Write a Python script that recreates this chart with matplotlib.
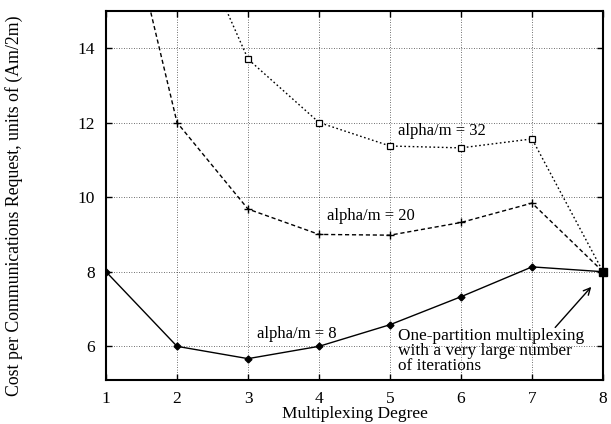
import matplotlib
matplotlib.use("Agg")
import matplotlib.pyplot as plt

# ------------------------------------------------------------
# Data
# ------------------------------------------------------------
degree = [1, 2, 3, 4, 5, 6, 7, 8]
cost_alpha8 = [8.0, 6.0, 5.67, 6.0, 6.58, 7.33, 8.13, 8.0]
cost_alpha20 = [20.0, 12.0, 9.68, 9.0, 8.98, 9.32, 9.84, 8.0]
cost_alpha32 = [32.0, 18.0, 13.7, 12.0, 11.37, 11.32, 11.56, 8.0]

y_ticks = [6, 8, 10, 12, 14]

plt.rcParams["font.family"] = ["Liberation Serif", "DejaVu Serif"]

fig = plt.figure(figsize=(6.11, 4.24), dpi=100)
ax = fig.add_axes([0.1735, 0.104, 0.8135, 0.871])

# ------------------------------------------------------------
# Curves
# ------------------------------------------------------------
ax.plot(degree, cost_alpha32, color="black", linestyle=(0, (1.2, 1.8)),
        linewidth=1.0, marker="s", markersize=4.5, markerfacecolor="white",
        markeredgewidth=0.9)
ax.plot(degree, cost_alpha20, color="black", linestyle=(0, (3, 2)),
        linewidth=1.0, marker="+", markersize=6, markeredgewidth=1.0)
ax.plot(degree, cost_alpha8, color="black", linestyle="-",
        linewidth=1.0, marker="D", markersize=3.5)
ax.plot([8], [8], color="black", marker="s", markersize=6, clip_on=False)

# ------------------------------------------------------------
# Labels and annotation
# ------------------------------------------------------------
ax.text(5.11, 11.76, "alpha/m = 32", fontsize=12, va="center", ha="left")
ax.text(4.11, 9.5, "alpha/m = 20", fontsize=12, va="center", ha="left")
ax.text(3.12, 6.32, "alpha/m = 8", fontsize=12, va="center", ha="left")

ax.text(5.11, 6.48,
        "One-partition multiplexing\nwith a very large number\nof iterations",
        fontsize=12.4, va="top", ha="left", linespacing=0.9)
ax.annotate("", xy=(7.86, 7.65), xytext=(7.3, 6.45),
            arrowprops=dict(arrowstyle="->", color="black", linewidth=1.0,
                            mutation_scale=12))

# ------------------------------------------------------------
# Axes
# ------------------------------------------------------------
ax.set_xlim(1, 8)
ax.set_ylim(5.1, 15)
ax.set_xticks(degree)
ax.set_yticks(y_ticks)
ax.tick_params(direction="in", top=True, right=True, labelsize=12.5,
               length=4, width=1.0, pad=8)
ax.grid(True, color="black", linestyle=(0, (1, 2)), linewidth=0.6, alpha=0.75)

for spine in ax.spines.values():
    spine.set_linewidth(1.5)

ax.set_xlabel("Multiplexing Degree", fontsize=12.5, labelpad=-1)
ax.set_ylabel("Cost per Communications Request, units of (Am/2m)",
              fontsize=12.8)
ax.yaxis.set_label_coords(-0.166, 0.472)

fig.savefig("out.png", dpi=100)
